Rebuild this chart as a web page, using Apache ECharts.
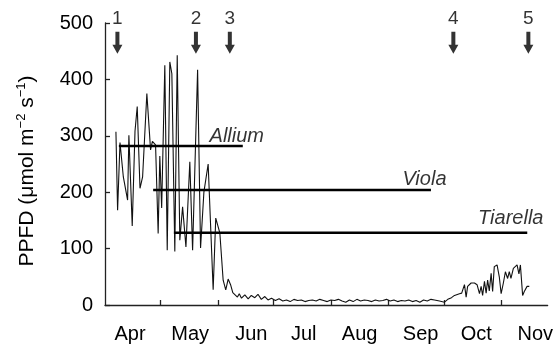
<!DOCTYPE html>
<html>
<head>
<meta charset="utf-8">
<script src="https://cdn.jsdelivr.net/npm/echarts@6/dist/echarts.min.js"></script>
<style>
html,body{margin:0;padding:0;background:#fff;}
#chart{width:556px;height:345px;}
</style>
</head>
<body>
<div id="chart"></div>
<script>
// Days counted from 1 April (day 0)
var monthNames = ['Apr', 'May', 'Jun', 'Jul', 'Aug', 'Sep', 'Oct', 'Nov'];
var monthLabelDays = [13.5, 46, 79, 107.3, 137.5, 170.4, 200.5, 232.3];
var monthStartDays = [30, 61, 91, 122, 153, 183, 214];
var yTicks = [0, 100, 200, 300, 400, 500];

var ppfdDays = [5.9, 6.8, 8.1, 9.9, 12.2, 12.9, 14.7, 16.2, 17.4, 18.9, 20.3, 21.2, 22.6, 24.6, 25.6, 27.3, 28.7, 29.6, 30.6, 32.3,
  33.6, 35.0, 36.1, 37.7, 39.0, 40.4, 41.9, 43.7, 45.8, 47.3, 50.0, 51.6, 53.4, 55.7, 58.4, 59.8, 62.0, 63.8, 65.2, 66.5,
  67.8, 69.0, 70, 71.5, 72.5, 73.7, 75.5, 77.3, 79, 80.9, 82.6, 84.4, 86.3, 88, 89.9, 92, 94, 96, 98, 100,
  102, 104, 106, 108, 110, 112, 114, 116, 118, 120, 122, 124, 126, 128, 130, 132, 134, 136, 138, 140,
  142, 144, 146, 148, 150, 152, 154, 156, 158, 160, 162, 164, 166, 168, 170, 172, 174, 176, 177.9, 180.6,
  183.3, 185.1, 187.1, 188.7, 191.4, 192.6, 194.1, 195.0, 195.8, 197.7, 199.5, 200.9, 202.2, 203.1, 203.9, 204.9, 205.8, 206.6, 207.5, 208.5,
  209.3, 210.2, 211.7, 212.9, 213.9, 215.1, 216.2, 217.4, 218.3, 219.2, 220.5, 221.4, 222.5, 223.5, 224.3, 225.5, 226.4, 227.9, 229.1];
var ppfdValues = [307, 168, 288, 227, 186, 301, 140, 308, 352, 207, 227, 228, 375, 275, 290, 284, 127, 264, 172, 425,
  97, 431, 410, 95, 443, 115, 174, 103, 254, 97, 417, 101, 200, 250, 27, 154, 128, 44, 27, 46,
  36, 22, 23, 14, 20, 12, 18, 11, 17, 13, 19, 10, 15, 9, 12, 8, 11, 7, 9, 6,
  10, 8, 9, 6, 8, 9, 7, 10, 8, 6, 9, 8, 10, 7, 5, 9, 6, 10, 7, 9,
  8, 6, 9, 7, 8, 10, 7, 9, 6, 8, 7, 9, 6, 8, 5, 9, 7, 10, 9, 7,
  5, 10, 13, 17, 20, 21, 36, 14, 33, 39, 39, 36, 20, 33, 17, 42, 21, 44, 25, 56,
  24, 68, 71, 50, 20, 39, 59, 47, 59, 47, 65, 62, 71, 55, 71, 17, 24, 33, 33];

var speciesNames = ['Allium', 'Viola', 'Tiarella'];
var speciesLevels = [282, 204, 128];
var speciesStart = [7.5, 26, 37.2];
var speciesEnd = [74.4, 176, 228];

var eventLabels = ['1', '2', '3', '4', '5'];
var eventDays = [6.7, 49.1, 67.4, 188.1, 228.6];
var eventLevel = 465;

// styling (not data)
var labelOffsets = [[-6, 0], [-6.5, -1], [-16.5, -4]];
var FONT = 'Liberation Sans, Arial, Helvetica, sans-serif';
var axisColor = '#222';

var ppfdData = ppfdDays.map(function (d, i) { return [d, ppfdValues[i]]; });

var series = [{
  type: 'line',
  data: ppfdData,
  showSymbol: false,
  symbol: 'none',
  lineStyle: { color: '#111', width: 1.1 },
  z: 2,
  animation: false
}];

speciesNames.forEach(function (n, i) {
  series.push({
    type: 'line',
    name: n,
    data: [[speciesStart[i], speciesLevels[i]], [speciesEnd[i], speciesLevels[i]]],
    symbol: 'none',
    showSymbol: false,
    lineStyle: { color: '#000', width: 2.6 },
    z: 3,
    animation: false
  });
  series.push({
    type: 'scatter',
    data: [{ value: [speciesEnd[i], speciesLevels[i]], name: n }],
    symbol: 'circle',
    symbolSize: 0,
    itemStyle: { color: 'rgba(0,0,0,0)' },
    label: {
      show: true, position: 'top', distance: 0, offset: labelOffsets[i],
      formatter: function (p) { return p.name; },
      fontFamily: FONT, fontSize: 20, fontStyle: 'italic', color: '#000'
    },
    z: 5,
    animation: false
  });
});

series.push({
  type: 'scatter',
  data: eventDays.map(function (d, i) { return { value: [d, eventLevel], name: eventLabels[i] }; }),
  symbol: 'path://M3,0 L7,0 L7,13 L10,13 L5,22 L0,13 L3,13 Z',
  symbolSize: [10, 22],
  itemStyle: { color: '#000' },
  label: {
    show: true, position: 'top', distance: 3,
    formatter: function (p) { return p.name; },
    fontFamily: FONT, fontSize: 19, color: '#000'
  },
  clip: false,
  z: 4,
  animation: false
});

var chart = echarts.init(document.getElementById('chart'), null, { renderer: 'canvas' });
chart.setOption({
  animation: false,
  backgroundColor: '#fff',
  grid: { left: 105, right: 8, top: 23, bottom: 40, containLabel: false },
  xAxis: {
    type: 'value',
    min: 0,
    max: 239,
    splitLine: { show: false },
    axisLine: { show: true, lineStyle: { color: axisColor, width: 1.3 } },
    axisTick: { show: true, inside: true, length: 5, customValues: monthStartDays, lineStyle: { color: axisColor, width: 1.3 } },
    axisLabel: {
      show: true,
      customValues: monthLabelDays,
      margin: 19,
      fontFamily: FONT, fontSize: 20, color: '#000',
      formatter: function (v) {
        var k = monthLabelDays.indexOf(v);
        return k >= 0 ? monthNames[k] : '';
      }
    }
  },
  yAxis: {
    type: 'value',
    min: 0,
    max: 500,
    interval: 100,
    splitLine: { show: false },
    axisLine: { show: true, lineStyle: { color: axisColor, width: 1.3 } },
    axisTick: { show: true, inside: true, length: 5, lineStyle: { color: axisColor, width: 1.3 } },
    axisLabel: {
      margin: 12, fontFamily: FONT, fontSize: 20, color: '#000',
      formatter: function (v) { return yTicks.indexOf(v) >= 0 ? String(v) : ''; }
    }
  },
  graphic: [{
    type: 'text',
    x: 27,
    y: 171,
    rotation: Math.PI / 2,
    style: {
      text: '{a|PPFD (μmol m}{s|−2}{a| s}{s|−1}{a|)}',
      align: 'center',
      verticalAlign: 'middle',
      fill: '#000',
      rich: {
        a: { fontFamily: FONT, fontSize: 21, fill: '#000', color: '#000' },
        s: { fontFamily: FONT, fontSize: 13, fill: '#000', color: '#000', padding: [0, 0, 12, 0] }
      }
    }
  }],
  series: series
});
</script>
</body>
</html>
